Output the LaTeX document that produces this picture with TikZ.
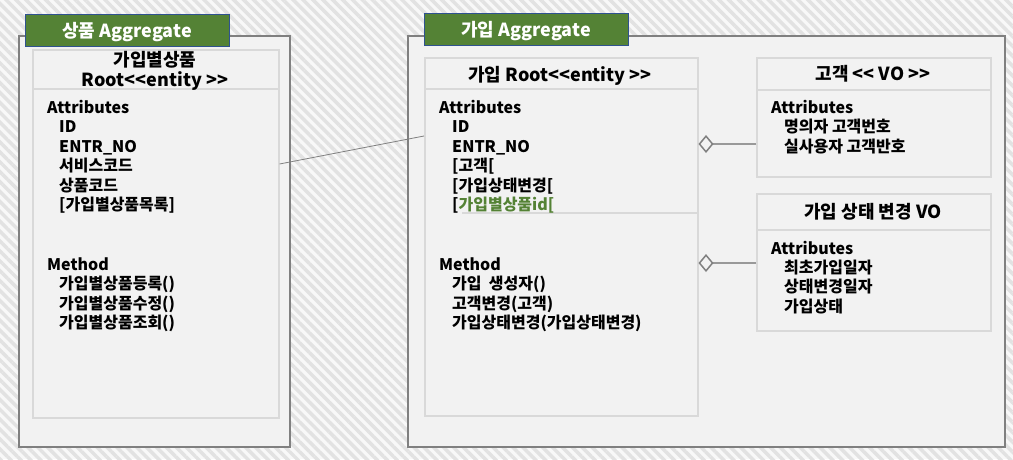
\documentclass[tikz,border=0pt]{standalone}
\usepackage{fontspec}
\setmainfont{Noto Sans CJK KR}
\usetikzlibrary{patterns.meta,arrows.meta,calc}
\definecolor{boxfill}{HTML}{F2F2F2}
\definecolor{innerline}{HTML}{D9D9D9}
\definecolor{outerline}{HTML}{808080}
\definecolor{tabgreen}{HTML}{548235}
\definecolor{tabblue}{HTML}{2F528F}
\definecolor{bgbase}{HTML}{F8F8F8}
\definecolor{stripe}{HTML}{E2E2E2}
\definecolor{aggline}{HTML}{999999}
\definecolor{idgreen}{HTML}{548235}
\begin{document}
\begin{tikzpicture}[x=1pt,y=-1pt,
  aggbox/.style={draw=outerline, line width=1.5pt, fill=boxfill, anchor=north west, inner sep=0pt},
  classbox/.style={draw=innerline, line width=1.5pt, fill=boxfill, anchor=north west, inner sep=0pt},
  tabbox/.style={draw=tabblue, line width=1pt, fill=tabgreen, anchor=north west, inner sep=0pt},
  tabtext/.style={text=white, font=\fontsize{18}{21}\selectfont\bfseries, inner sep=0pt, anchor=base},
  hdr/.style={font=\fontsize{18}{21}\selectfont\bfseries, inner sep=0pt, anchor=base},
  txt/.style={font=\fontsize{16}{19.5}\selectfont\bfseries, inner sep=0pt, anchor=base west},
  divider/.style={draw=innerline, line width=1.5pt},
  assoc/.style={draw=outerline, line width=0.8pt},
  aggr/.style={draw=aggline, line width=1.5pt, -{Diamond[open, length=15pt 0 0, width=18pt 0 0, color=outerline]}}
]
\useasboundingbox (0,0) rectangle (1013,459);
\fill[bgbase] (0,0) rectangle (1013,459);
\fill[pattern={Lines[angle=-45, distance=7pt, line width=3.5pt]}, pattern color=stripe] (0,0) rectangle (1013,459);

% left aggregate
\node[aggbox, minimum width=271pt, minimum height=411pt] (prodagg) at (18,35) {};
\node[tabbox, minimum width=204pt, minimum height=32pt] (prodtab) at (25,14) {};
\node[tabtext] (prodtabt) at (127,37) {상품 Aggregate};
\node[classbox, minimum width=246pt, minimum height=368pt] (prodroot) at (32,49) {};
\draw[divider] (32,89) -- (278,89);
\node[hdr] (prodh1) at (155,66) {가입별상품};
\node[hdr] (prodh2) at (155,86) {Root<{}<entity >{}>};
\node[txt] (pa0) at (47,113) {Attributes};
\node[txt] (pa1) at (59,132.5) {ID};
\node[txt] (pa2) at (59,152) {ENTR\_NO};
\node[txt] (pa3) at (59,171.5) {서비스코드};
\node[txt] (pa4) at (59,191) {상품코드};
\node[txt] (pa5) at (59,210.5) {[가입별상품목록]};
\node[txt] (pm0) at (47,270) {Method};
\node[txt] (pm1) at (59,289.5) {가입별상품등록()};
\node[txt] (pm2) at (59,309) {가입별상품수정()};
\node[txt] (pm3) at (59,328.5) {가입별상품조회()};

% right aggregate
\node[aggbox, minimum width=597pt, minimum height=411pt] (joinagg) at (407,35) {};
\node[tabbox, minimum width=204pt, minimum height=32pt] (jointab) at (424,13) {};
\node[tabtext] (jointabt) at (526,36) {가입 Aggregate};

\node[classbox, minimum width=273pt, minimum height=358pt] (joinroot) at (424,57) {};
\draw[divider] (424,89) -- (697,89);
\draw[divider] (462,213) -- (697,213);
\node[hdr] (joinh) at (560,81) {가입 Root<{}<entity >{}>};
\node[txt] (ja0) at (439,113) {Attributes};
\node[txt] (ja1) at (452,132.5) {ID};
\node[txt] (ja2) at (452,152) {ENTR\_NO};
\node[txt] (ja3) at (452,171.5) {[고객[};
\node[txt] (ja4) at (452,191) {[가입상태변경[};
\node[txt] (ja5) at (452,210.5) {[\textcolor{idgreen}{가입별상품id[}};
\node[txt] (jm0) at (439,270) {Method};
\node[txt] (jm1) at (452,289.5) {가입 \ 생성자()};
\node[txt] (jm2) at (452,309) {고객변경(고객)};
\node[txt] (jm3) at (452,328.5) {가입상태변경(가입상태변경)};

% customer VO
\node[classbox, minimum width=234pt, minimum height=119pt] (custvo) at (756,57) {};
\draw[divider] (756,90) -- (990,90);
\node[hdr] (custh) at (873,80) {고객 <{}< VO >{}>};
\node[txt] (ca0) at (771,113) {Attributes};
\node[txt] (ca1) at (784,132.5) {명의자 고객번호};
\node[txt] (ca2) at (784,152) {실사용자 고객반호};

% status VO
\node[classbox, minimum width=234pt, minimum height=137pt] (statvo) at (756,193) {};
\draw[divider] (756,230) -- (990,230);
\node[hdr] (stath) at (873,218) {가입 상태 변경 VO};
\node[txt] (sa0) at (771,254) {Attributes};
\node[txt] (sa1) at (784,273) {최초가입일자};
\node[txt] (sa2) at (784,292.5) {상태변경일자};
\node[txt] (sa3) at (784,312) {가입상태};

% connectors
\draw[assoc] ($(prodroot.north east)+(0,115)$) -- ($(joinroot.north west)+(0,79)$);
\draw[aggr] ($(custvo.north west)+(0,87)$) -- ($(joinroot.north east)+(0,87)$);
\draw[aggr] ($(statvo.north west)+(0,70)$) -- ($(joinroot.north east)+(0,206)$);
\end{tikzpicture}
\end{document}
